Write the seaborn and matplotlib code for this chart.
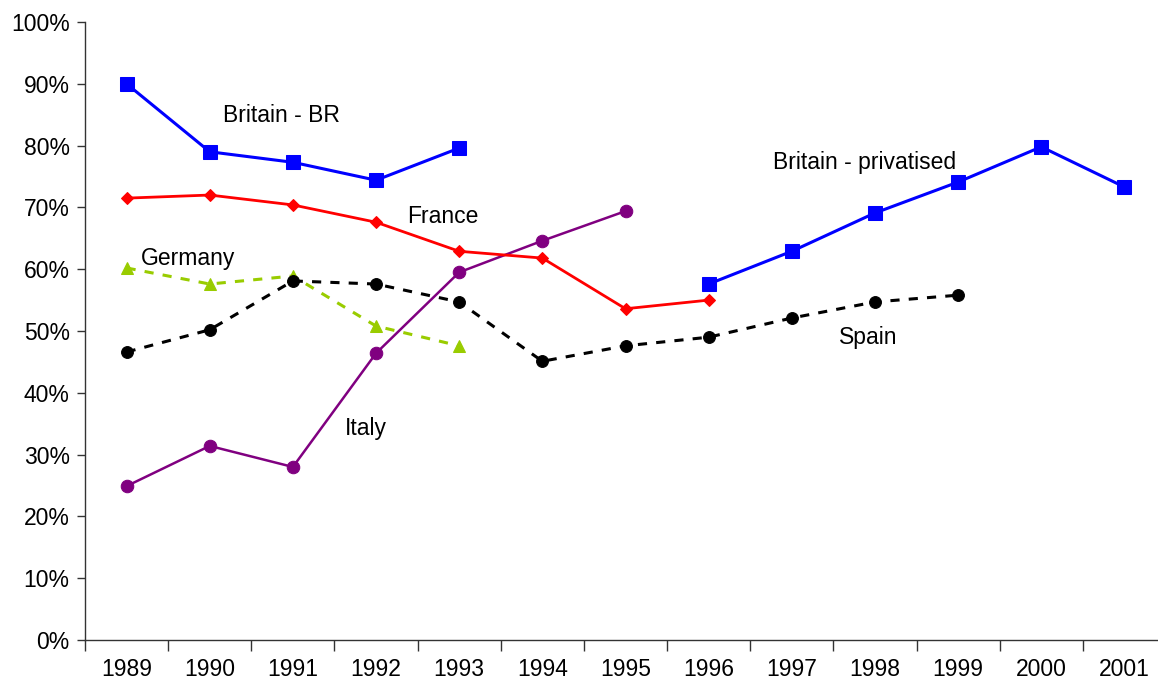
import pandas as pd
import seaborn as sns
import matplotlib.pyplot as plt
import numpy as np
from matplotlib.ticker import FixedLocator, PercentFormatter

# Jahre (Kategorien auf der x-Achse)
years = ["1989", "1990", "1991", "1992", "1993", "1994", "1995",
         "1996", "1997", "1998", "1999", "2000", "2001"]

# Werte in Prozent, None = kein Wert
britain_br = [90.0, 79.0, 77.3, 74.4, 79.6, None, None, None, None, None, None, None, None]
britain_priv = [None, None, None, None, None, None, None, 57.6, 62.9, 69.1, 74.1, 79.8, 73.3]
france = [71.5, 72.0, 70.4, 67.6, 62.9, 61.8, 53.6, 55.0, None, None, None, None, None]
germany = [60.2, 57.6, 58.9, 50.8, 47.6, None, None, None, None, None, None, None, None]
spain = [46.6, 50.2, 58.1, 57.6, 54.7, 45.1, 47.6, 49.0, 52.1, 54.7, 55.8, None, None]
italy = [24.9, 31.4, 28.0, 46.4, 59.5, 64.6, 69.4, None, None, None, None, None, None]

series = {
    "Britain - BR": britain_br,
    "Britain - privatised": britain_priv,
    "France": france,
    "Germany": germany,
    "Spain": spain,
    "Italy": italy,
}

rows = []
for name, vals in series.items():
    for i, v in enumerate(vals):
        if v is not None:
            rows.append({"series": name, "pos": i, "value": v})
df = pd.DataFrame(rows)

styles = {
    "Britain - BR": dict(color="#0000FF", marker="s", markersize=9.5, linewidth=2.2, linestyle="-"),
    "Britain - privatised": dict(color="#0000FF", marker="s", markersize=9.5, linewidth=2.2, linestyle="-"),
    "France": dict(color="#FF0000", marker="D", markersize=6.5, linewidth=2.0, linestyle="-"),
    "Germany": dict(color="#99CC00", marker="^", markersize=9, linewidth=2.2, linestyle=(0, (3, 3))),
    "Spain": dict(color="#000000", marker="o", markersize=8.5, linewidth=2.2, linestyle=(0, (3, 3))),
    "Italy": dict(color="#800080", marker="o", markersize=9, linewidth=1.8, linestyle="-"),
}

sns.set_style("ticks")
plt.rcParams["font.family"] = ["Liberation Sans", "DejaVu Sans"]

fig = plt.figure(figsize=(11.58, 6.87), dpi=100)
ax = fig.add_axes([85 / 1158, 1 - 640 / 687, (1166 - 85) / 1158, (640 - 22) / 687])

# Zeichenreihenfolge wie im Original
for name in ["Germany", "Spain", "Italy", "France", "Britain - BR", "Britain - privatised"]:
    st = styles[name]
    sub = df[df["series"] == name]
    sns.lineplot(data=sub, x="pos", y="value", ax=ax, color=st["color"],
                 marker=st["marker"], markersize=st["markersize"],
                 linewidth=st["linewidth"], linestyle=st["linestyle"],
                 markeredgecolor=st["color"], clip_on=False, legend=False)

# Beschriftungen direkt an den Linien
labels = [
    ("Britain - BR", 1.16, 84.8),
    ("France", 3.37, 68.6),
    ("Germany", 0.17, 61.8),
    ("Italy", 2.63, 34.3),
    ("Britain - privatised", 7.77, 77.2),
    ("Spain", 8.57, 48.9),
]
for txt, x, y in labels:
    ax.text(x, y, txt, fontsize=16.5, ha="left", va="center", color="black")

ax.set_xlim(-0.5, len(years) - 0.5)
ax.set_ylim(0, 100)
ax.yaxis.set_major_locator(FixedLocator(np.arange(0, 101, 10)))
ax.yaxis.set_major_formatter(PercentFormatter(decimals=0))

# Tick-Striche zwischen den Kategorien, Labels in der Mitte
ax.xaxis.set_major_locator(FixedLocator(np.arange(-0.5, len(years), 1.0)))
ax.xaxis.set_minor_locator(FixedLocator(np.arange(len(years))))
ax.set_xticklabels([], minor=False)
ax.set_xticklabels(years, minor=True)
ax.tick_params(axis="x", which="major", length=8, width=1, color="#333333", direction="out")
ax.tick_params(axis="x", which="minor", length=0, pad=13, labelsize=16.5, labelcolor="black")
ax.tick_params(axis="y", length=6, width=1, color="#333333", labelsize=16.5, pad=5, labelcolor="black")

ax.set_xlabel("")
ax.set_ylabel("")
sns.despine(ax=ax)
for sp in ["left", "bottom"]:
    ax.spines[sp].set_color("#333333")
    ax.spines[sp].set_linewidth(1)

plt.savefig("out.png", dpi=100)
plt.close()
